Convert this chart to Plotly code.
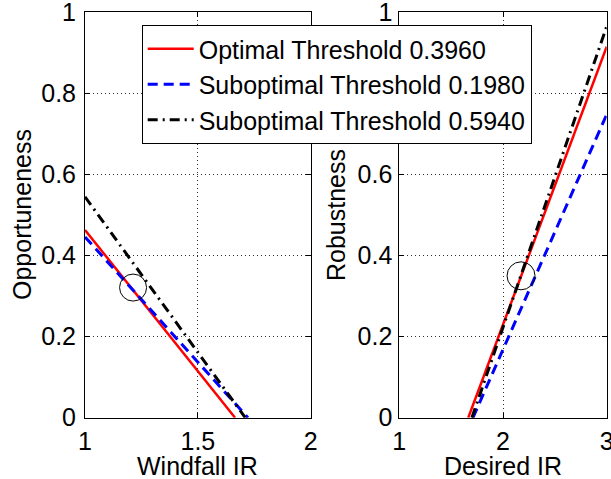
import plotly.graph_objects as go

# ---- data ----
legend_names = ["Optimal Threshold 0.3960", "Suboptimal Threshold 0.1980", "Suboptimal Threshold 0.5940"]
colors = ["#ff0000", "#0000ff", "#000000"]
dashes = ["solid", "10px,6px", "10px,5px,2px,5px"]
widths = [2.5, 3, 3]

# Left panel: Opportuneness vs Windfall IR
windfall_x = [[1.0, 1.665], [1.0, 1.722], [1.0, 1.71]]
opportuneness_y = [[0.463, 0.0], [0.446, 0.0], [0.545, 0.0]]

# Right panel: Robustness vs Desired IR
desired_x = [[1.665, 3.0], [1.71, 3.0], [1.70, 3.0]]
robustness_y = [[0.0, 0.915], [0.0, 0.748], [0.0, 0.965]]

# Highlighted operating points (circles)
opp_circle_x = [1.213]
opp_circle_y = [0.321]
rob_circle_x = [2.174]
rob_circle_y = [0.350]

x_ticks_left = [1, 1.5, 2]
x_ticks_right = [1, 2, 3]
y_ticks = [0, 0.2, 0.4, 0.6, 0.8, 1]

FONT = "Liberation Sans, Arial, Helvetica, sans-serif"

fig = go.Figure()
for i in range(3):
    fig.add_trace(go.Scatter(
        x=windfall_x[i], y=opportuneness_y[i], mode="lines", name=legend_names[i],
        line=dict(color=colors[i], dash=dashes[i], width=widths[i]),
        xaxis="x", yaxis="y", showlegend=True, legendrank=i + 1))
for i in range(3):
    fig.add_trace(go.Scatter(
        x=desired_x[i], y=robustness_y[i], mode="lines", name=legend_names[i],
        line=dict(color=colors[i], dash=dashes[i], width=widths[i]),
        xaxis="x2", yaxis="y2", showlegend=False))

fig.add_trace(go.Scatter(x=opp_circle_x, y=opp_circle_y, mode="markers",
                         marker=dict(symbol="circle-open", size=27, color="black", line=dict(width=1)),
                         xaxis="x", yaxis="y", showlegend=False, hoverinfo="skip"))
fig.add_trace(go.Scatter(x=rob_circle_x, y=rob_circle_y, mode="markers",
                         marker=dict(symbol="circle-open", size=28, color="black", line=dict(width=1)),
                         xaxis="x2", yaxis="y2", showlegend=False, hoverinfo="skip"))

W, H = 611, 479
TS = 25
ax_common = dict(showline=True, linecolor="black", linewidth=1, mirror="allticks",
                 ticks="inside", ticklen=5, tickcolor="black", tickwidth=1,
                 showgrid=True, gridcolor="#303030", griddash="1px,3px", gridwidth=1,
                 zeroline=False, tickfont=dict(size=TS, color="black", family=FONT),
                 ticklabeloverflow="allow", automargin=False)

ydom = [1 - 417.7 / H, 1 - 12.3 / H]
xdom1 = [85 / W, 310.7 / W]
xdom2 = [399.3 / W, 606.7 / W]
fig.update_layout(
    width=W, height=H, margin=dict(l=0, r=0, t=0, b=0, autoexpand=False),
    paper_bgcolor="white", plot_bgcolor="white",
    font=dict(family=FONT, color="black"),
    xaxis=dict(ax_common, domain=xdom1, range=[1, 2], tickvals=x_ticks_left,
               ticktext=["1", "1.5", "2"], ticklabelstandoff=1, anchor="y"),
    yaxis=dict(ax_common, domain=ydom, range=[0, 1.00001], tickvals=y_ticks,
               ticktext=["0", "0.2", "0.4", "0.6", "0.8", "1"], ticklabelstandoff=3, anchor="x"),
    xaxis2=dict(ax_common, domain=xdom2, range=[1, 3], tickvals=x_ticks_right,
                ticktext=["1", "2", "3"], ticklabelstandoff=1, anchor="y2"),
    yaxis2=dict(ax_common, domain=ydom, range=[0, 1.00001], tickvals=y_ticks,
                ticktext=["0", "0.2", "0.4", "0.6", "0.8", "1"], ticklabelstandoff=1, anchor="x2"),
    legend=dict(x=141.7 / W, y=1 - 25 / H, xanchor="left", yanchor="top",
                bgcolor="white", bordercolor="black", borderwidth=1, itemwidth=46,
                font=dict(size=25, color="black", family=FONT), tracegroupgap=0),
)

title_font = dict(size=TS, color="black", family=FONT)
ymid = sum(ydom) / 2
fig.add_annotation(text="Windfall IR", xref="paper", yref="paper", x=sum(xdom1) / 2, y=1 - 466 / H,
                   xanchor="center", yanchor="middle", showarrow=False, font=title_font)
fig.add_annotation(text="Desired IR", xref="paper", yref="paper", x=sum(xdom2) / 2, y=1 - 466 / H,
                   xanchor="center", yanchor="middle", showarrow=False, font=title_font)
fig.add_annotation(text="Opportuneness", xref="paper", yref="paper", x=22 / W, y=ymid, textangle=-90,
                   xanchor="center", yanchor="middle", showarrow=False, font=title_font)
fig.add_annotation(text="Robustness", xref="paper", yref="paper", x=336 / W, y=ymid, textangle=-90,
                   xanchor="center", yanchor="middle", showarrow=False, font=title_font)

fig.write_html("out.html")
